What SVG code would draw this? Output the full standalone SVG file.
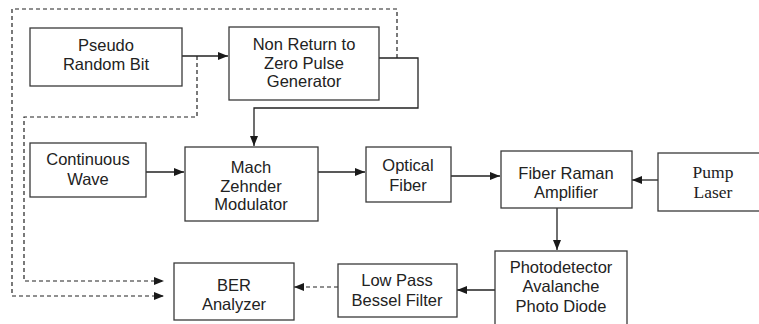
<svg xmlns="http://www.w3.org/2000/svg" width="759" height="324" viewBox="0 0 759 324">
<defs>
<marker id="ah" markerWidth="10" markerHeight="8" refX="10" refY="4" orient="auto" markerUnits="userSpaceOnUse">
<path d="M0,0 L10,4 L0,8 Z" fill="#1a1a1a"/>
</marker>
</defs>
<style>
rect{fill:#fff;stroke:#3a3a3a;stroke-width:1.3}
text{font-family:"Liberation Sans",Arial,sans-serif;font-size:16.5px;fill:#222;text-anchor:middle}
text.serif{font-family:"Liberation Serif","Times New Roman",serif;font-size:17.5px}
.c{fill:none;stroke:#222;stroke-width:1.3}
.d{fill:none;stroke:#222;stroke-width:1.2;stroke-dasharray:4 3}
</style>
<rect x="0" y="0" width="759" height="324" style="fill:#fff;stroke:none"/>
<g id="connectors">
<path class="d" d="M397,58 V9 H12 V296 H164" marker-end="url(#ah)"/>
<path class="d" d="M197,56 V117 H24 V281 H164" marker-end="url(#ah)"/>
<path class="d" d="M338,287 H294" marker-end="url(#ah)"/>
<path class="c" d="M182,56 H228" marker-end="url(#ah)"/>
<path class="c" d="M379,58 H418 V108 H254 V146" marker-end="url(#ah)"/>
<path class="c" d="M146,172 H184" marker-end="url(#ah)"/>
<path class="c" d="M318,172 H365" marker-end="url(#ah)"/>
<path class="c" d="M451,176 H500" marker-end="url(#ah)"/>
<path class="c" d="M658,180 H632" marker-end="url(#ah)"/>
<path class="c" d="M557,208 V250" marker-end="url(#ah)"/>
<path class="c" d="M495,290 H457" marker-end="url(#ah)"/>
</g>
<g id="prbs">
<rect x="30" y="28" width="152" height="58"/>
<text x="106" y="51">Pseudo</text>
<text x="106" y="70">Random Bit</text>
</g>
<g id="nrz">
<rect x="229" y="27" width="150" height="73"/>
<text x="304" y="50">Non Return to</text>
<text x="304" y="69">Zero Pulse</text>
<text x="304" y="87">Generator</text>
</g>
<g id="cw">
<rect x="30" y="143" width="116" height="54"/>
<text x="88" y="165">Continuous</text>
<text x="88" y="185">Wave</text>
</g>
<g id="mzm">
<rect x="185" y="147" width="133" height="74"/>
<text x="251" y="173">Mach</text>
<text x="251" y="192">Zehnder</text>
<text x="251" y="210">Modulator</text>
</g>
<g id="fiber">
<rect x="366" y="147" width="85" height="55"/>
<text x="408" y="171">Optical</text>
<text x="408" y="191">Fiber</text>
</g>
<g id="raman">
<rect x="501" y="151" width="131" height="57"/>
<text x="566" y="179">Fiber Raman</text>
<text x="566" y="198">Amplifier</text>
</g>
<g id="pump">
<rect x="658" y="153" width="110" height="58"/>
<text class="serif" x="713" y="178">Pump</text>
<text class="serif" x="713" y="198">Laser</text>
</g>
<g id="apd">
<rect x="495" y="251" width="132" height="80"/>
<text x="561" y="273">Photodetector</text>
<text x="561" y="292">Avalanche</text>
<text x="561" y="312">Photo Diode</text>
</g>
<g id="lpf">
<rect x="338" y="264" width="119" height="53"/>
<text x="397" y="286">Low Pass</text>
<text x="397" y="306">Bessel Filter</text>
</g>
<g id="ber">
<rect x="174" y="263" width="120" height="57"/>
<text x="234" y="291">BER</text>
<text x="234" y="310">Analyzer</text>
</g>
</svg>
